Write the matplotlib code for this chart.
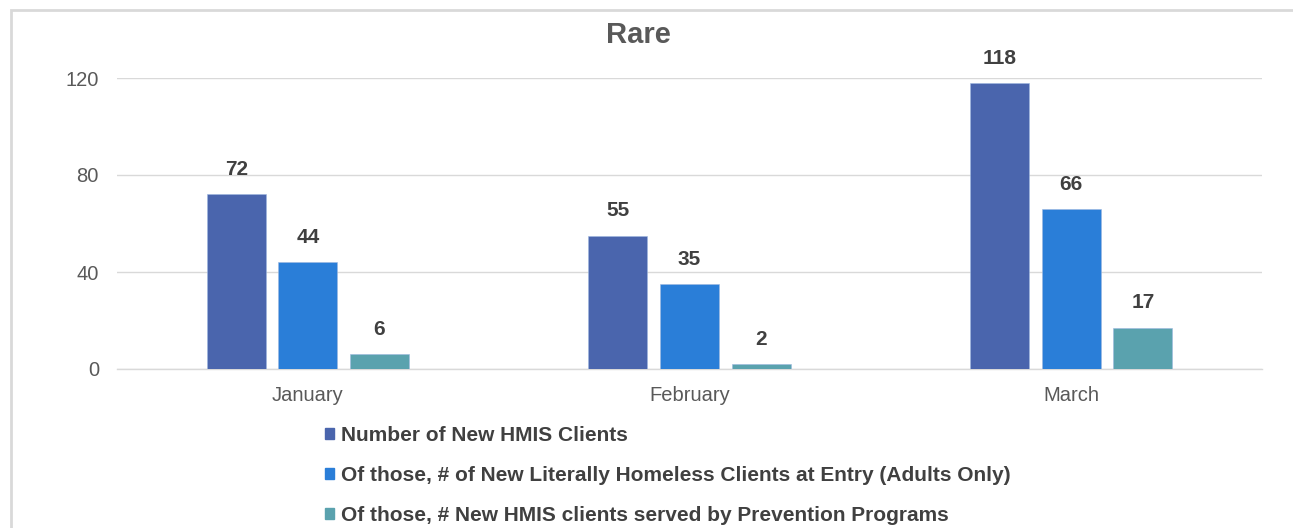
import matplotlib
matplotlib.use("Agg")
import matplotlib.pyplot as plt
import matplotlib.patches as mpatches
import numpy as np

plt.rcParams['font.family'] = ['Liberation Sans', 'DejaVu Sans']

categories = ["January", "February", "March"]
series_names = [
    "Number of New HMIS Clients",
    "Of those, # of New Literally Homeless Clients at Entry (Adults Only)",
    "Of those, # New HMIS clients served by Prevention Programs",
]
new_hmis = [72, 55, 118]
literally_homeless = [44, 35, 66]
prevention = [6, 2, 17]
yticks = [0, 40, 80, 120]

colors = ["#4A65AD", "#2A7ED8", "#5AA2AE"]
W, H = 1293, 528
fig = plt.figure(figsize=(W / 100, H / 100), dpi=100)

# outer chart border
fig.patches.append(mpatches.Rectangle((11 / W, -0.1), 1.2, 1 - 10 / H + 0.1,
                                      transform=fig.transFigure, fill=False,
                                      edgecolor="#D9D9D9", linewidth=2.0))

ax = fig.add_axes([117 / W, 1 - 369 / H, (1262 - 117) / W, (369 - 78) / H])
x = np.arange(len(categories))
bw = 0.155
step = 0.1876
data = [new_hmis, literally_homeless, prevention]
for i, (vals, c, name) in enumerate(zip(data, colors, series_names)):
    pos = x + (i - 1) * step
    ax.bar(pos, vals, width=bw, color=c, label=name, zorder=3,
           edgecolor="#9DB8E0", linewidth=0.4)
    for p, v in zip(pos, vals):
        ax.annotate(str(v), (p, v), xytext=(0, 11), textcoords="offset points",
                    ha="center", va="bottom", fontsize=15,
                    fontweight="bold", color="#404040")

ax.set_xlim(-0.5, 2.5)
ax.set_ylim(0, 120)
ax.set_yticks(yticks)
ax.set_xticks(x)
ax.set_xticklabels(categories)
ax.tick_params(axis="both", length=0, labelsize=14.5, labelcolor="#595959")
ax.tick_params(axis="y", pad=13)
ax.tick_params(axis="x", pad=12)
ax.grid(axis="y", color="#D9D9D9", linewidth=1.0, zorder=0)
for s in ["top", "right", "left"]:
    ax.spines[s].set_visible(False)
ax.spines["bottom"].set_color("#D9D9D9")
ax.spines["bottom"].set_linewidth(1.0)

fig.text(638 / W, 1 - 35 / H, "Rare", ha="center", va="center", fontsize=21,
         fontweight="bold", color="#595959")

handles = [mpatches.Patch(color=c) for c in colors]
leg = fig.legend(handles, series_names, loc="upper left",
                 bbox_to_anchor=(325 / W, 1 - 426 / H), frameon=False,
                 borderpad=0, borderaxespad=0,
                 ncol=1, handlelength=0.45, handleheight=0.45, handletextpad=0.3,
                 labelspacing=1.0, prop={"size": 15, "weight": "bold"})
for t in leg.get_texts():
    t.set_color("#404040")

fig.savefig("out.png", dpi=100)
